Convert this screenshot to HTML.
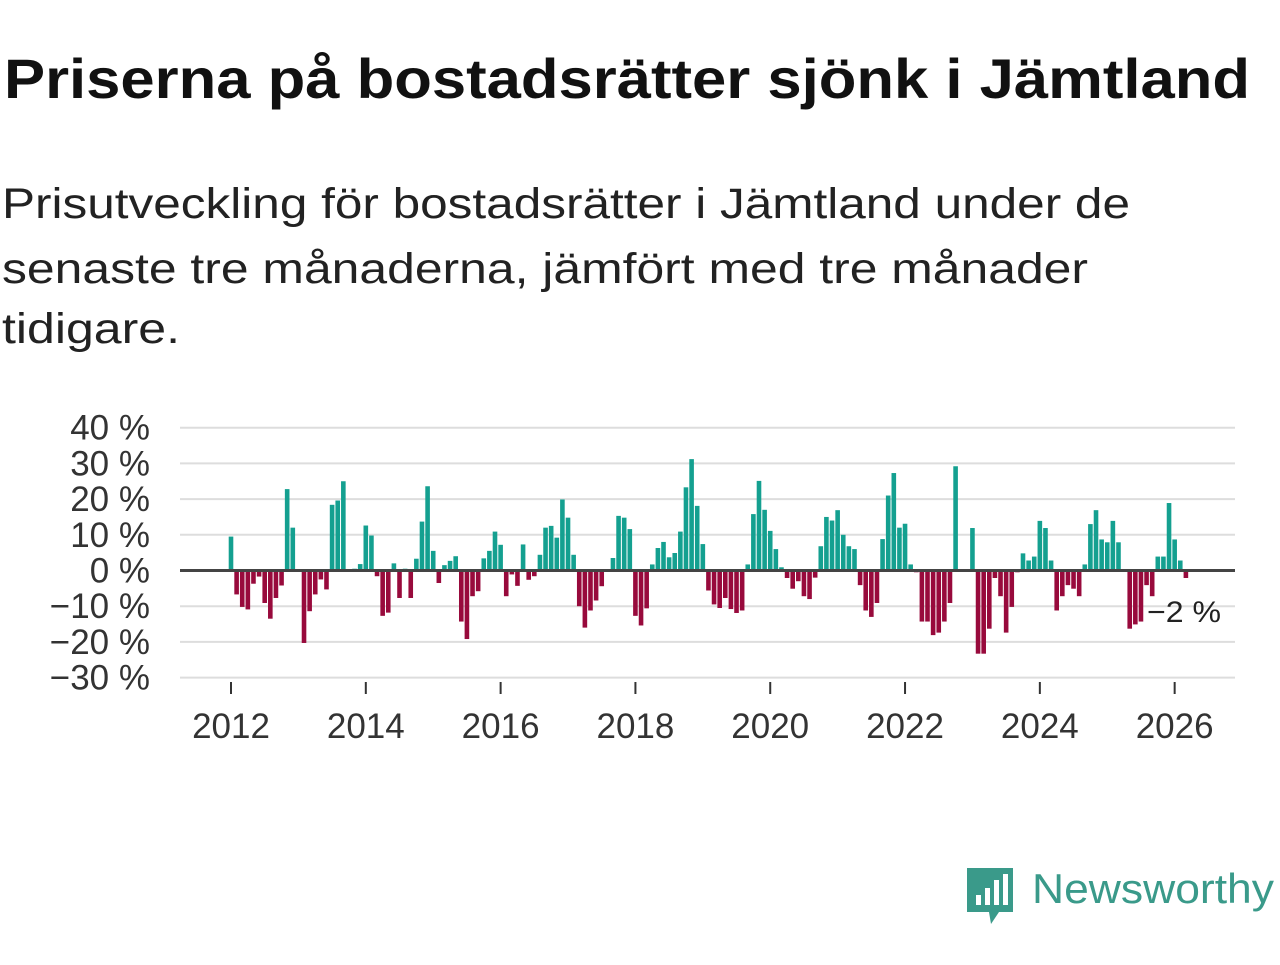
<!DOCTYPE html>
<html><head><meta charset="utf-8">
<style>
body{margin:0;background:#fff;width:1280px;height:960px;overflow:hidden;font-family:"Liberation Sans",sans-serif;}
</style></head><body>
<svg width="1280" height="960" xmlns="http://www.w3.org/2000/svg">
<text x="4" y="98" font-family="Liberation Sans, sans-serif" font-weight="bold" font-size="56" fill="#111" textLength="1246" lengthAdjust="spacingAndGlyphs">Priserna på bostadsrätter sjönk i Jämtland</text>
<g font-family="Liberation Sans, sans-serif" font-size="43" fill="#222">
<text x="2" y="218" textLength="1128" lengthAdjust="spacingAndGlyphs">Prisutveckling för bostadsrätter i Jämtland under de</text>
<text x="2" y="283" textLength="1086" lengthAdjust="spacingAndGlyphs">senaste tre månaderna, jämfört med tre månader</text>
<text x="2" y="343" textLength="178" lengthAdjust="spacingAndGlyphs">tidigare.</text>
</g>
<g id="grid"></g>
<g id="yticks"></g>
<g id="bars"></g>
<line x1="180" x2="1235" id="zero" stroke="#444" stroke-width="3"/>
<g id="xticks"></g>
<text id="lastlabel" x="1147" y="614" font-family="Liberation Sans, sans-serif" font-size="30" fill="#222" textLength="74" lengthAdjust="spacingAndGlyphs">−2 %</text>
<g>
<path d="M967 868 h46 v44 h-14 l-8 12 l-2 -12 h-22 z" fill="#3a9a8a"/>
<rect x="976" y="895" width="5" height="10" fill="#fff"/>
<rect x="985" y="888" width="5" height="17" fill="#fff"/>
<rect x="994" y="880" width="5" height="25" fill="#fff"/>
<rect x="1003" y="874" width="5" height="31" fill="#fff"/>
<text x="1032" y="903" font-family="Liberation Sans, sans-serif" font-size="42" fill="#3a9a8a" textLength="242" lengthAdjust="spacingAndGlyphs">Newsworthy</text>
</g>
</svg>
<script>
const values=[9.5,-6.7,-10.2,-10.9,-3.7,-1.7,-9.1,-13.5,-7.7,-4.2,22.8,12,
0,-20.3,-11.4,-6.7,-2.5,-5.3,18.4,19.6,25,0,0.5,1.8,
12.6,9.8,-1.6,-12.7,-11.8,2,-7.7,0.5,-7.7,3.3,13.7,23.6,
5.5,-3.5,1.5,2.7,4,-14.3,-19.2,-7.2,-5.8,3.4,5.5,10.9,
7.2,-7.2,-1.1,-4.3,7.3,-2.6,-1.6,4.4,12,12.5,9.2,19.9,
14.8,4.4,-10,-16,-11.2,-8.4,-4.4,0,3.5,15.3,14.8,11.6,
-12.7,-15.4,-10.6,1.7,6.3,8,3.7,4.9,10.9,23.3,31.2,18.1,
7.4,-5.6,-9.5,-10.5,-7.7,-10.8,-11.9,-11.2,1.7,15.8,25.1,17,
11.1,6,0.9,-2.1,-5.1,-3,-7.2,-8,-2,6.8,15,14,
16.9,10,6.8,6,-4.1,-11.2,-13,-9.1,8.8,21,27.3,12,
13.1,1.7,-0.5,-14.3,-14.3,-18.1,-17.4,-14.3,-9.1,29.2,0,0,
11.9,-23.3,-23.3,-16.3,-2.1,-7.2,-17.4,-10.2,-0.5,4.8,2.8,3.9,
13.9,11.9,2.8,-11.2,-7.2,-4.1,-5.1,-7.2,1.7,13,16.9,8.7,
7.9,13.9,7.9,0,-16.3,-15.1,-14.3,-4.1,-7.2,3.9,3.9,18.9,
8.7,2.8,-2.1];
const yTicks=[40,30,20,10,0,-10,-20,-30];
const yLabels=["40 %","30 %","20 %","10 %","0 %","−10 %","−20 %","−30 %"];
const xYears=[2012,2014,2016,2018,2020,2022,2024,2026];
const NS="http://www.w3.org/2000/svg";
const y0=570.5, pxPer=3.57;
function y(v){return y0-v*pxPer;}
const x0=231, mw=5.617;
function xm(i){return x0+i*mw;}
function xYear(yr){return x0+(yr-2012)*12*mw;}
const grid=document.getElementById('grid'),yt=document.getElementById('yticks');
yTicks.forEach((t,i)=>{
 if(t!==0){const l=document.createElementNS(NS,'line');
 l.setAttribute('x1',180);l.setAttribute('x2',1235);l.setAttribute('y1',y(t));l.setAttribute('y2',y(t));
 l.setAttribute('stroke','#ddd');l.setAttribute('stroke-width','2');
 
 
 grid.appendChild(l);}
 const tx=document.createElementNS(NS,'text');
 tx.setAttribute('x',150);tx.setAttribute('y',y(t)+12);tx.setAttribute('text-anchor','end');
 tx.setAttribute('font-size','35');tx.setAttribute('fill','#333');tx.setAttribute('font-family','Liberation Sans, sans-serif');
 tx.textContent=yLabels[i];
 
 
 yt.appendChild(tx);
});
const z=document.getElementById('zero');z.setAttribute('y1',y(0));z.setAttribute('y2',y(0));
const bars=document.getElementById('bars');
values.forEach((v,i)=>{
 const r=document.createElementNS(NS,'rect');
 r.setAttribute('x',xm(i)-2.3);r.setAttribute('width',4.6);
 r.setAttribute('y',Math.min(y(v),y(0)));r.setAttribute('height',Math.abs(y(v)-y(0)));
 r.setAttribute('fill',v>=0?'#14a090':'#980a3c');
 
 
 bars.appendChild(r);
});
const last=values[values.length-1];
document.getElementById('lastlabel').setAttribute('y',y(last)+44);
const xt=document.getElementById('xticks');
xYears.forEach(yr=>{
 const l=document.createElementNS(NS,'line');
 l.setAttribute('x1',xYear(yr));l.setAttribute('x2',xYear(yr));l.setAttribute('y1',682);l.setAttribute('y2',694);
 l.setAttribute('stroke','#333');l.setAttribute('stroke-width','2');
 
 
 xt.appendChild(l);
 const tx=document.createElementNS(NS,'text');
 tx.setAttribute('x',xYear(yr));tx.setAttribute('y',738);tx.setAttribute('text-anchor','middle');
 tx.setAttribute('font-size','35');tx.setAttribute('fill','#333');tx.setAttribute('font-family','Liberation Sans, sans-serif');
 tx.textContent=yr;
 
 
 xt.appendChild(tx);
});
</script>
</body></html>
